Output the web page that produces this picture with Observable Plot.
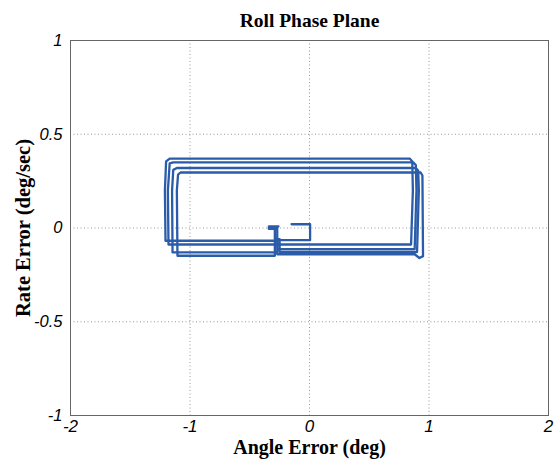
<!DOCTYPE html>
<html>
<head>
<meta charset="utf-8">
<script src="https://cdn.jsdelivr.net/npm/d3@7"></script>
<script src="https://cdn.jsdelivr.net/npm/@observablehq/plot@0.6"></script>
<style>
  html, body { margin: 0; padding: 0; background: #fff; }
</style>
</head>
<body>
<div id="chart"></div>
<script>
const title = "Roll Phase Plane";
const xLabel = "Angle Error (deg)";
const yLabel = "Rate Error (deg/sec)";
const xTicks = [-2, -1, 0, 1, 2];
const yTicks = [-1, -0.5, 0, 0.5, 1];

// trajectory (angle error, rate error), in time order
const angle = [
  -0.15, 0.005, 0.005, -0.29, -0.29, -0.27, -0.27, -1.205,
  -1.21, -1.2, -1.17, 0.84, 0.86, 0.865, 0.85,
  -1.18, -1.185, -1.17, -1.14, 0.87, 0.89, 0.895, 0.88,
  -0.27, -0.27, -1.146, -1.15, -1.14, -1.11, 0.89, 0.91, 0.915, 0.90,
  -0.25, -0.25, -0.29, -0.29, -1.105, -1.11, -1.10, -1.08, 0.93, 0.945, 0.95, 0.92, 0.88,
  -0.24, -0.27, -0.27, -0.34, -0.34, -0.26
];
const rate = [
  0.02, 0.02, -0.065, -0.065, 0.0, 0.0, -0.068, -0.068,
  0.2, 0.355, 0.37, 0.37, 0.355, 0.2, -0.088,
  -0.088, 0.2, 0.345, 0.35, 0.35, 0.335, 0.2, -0.113,
  -0.113, -0.13, -0.13, 0.2, 0.31, 0.32, 0.32, 0.305, 0.2, -0.128,
  -0.128, -0.06, -0.06, -0.148, -0.148, 0.2, 0.285, 0.296, 0.296, 0.28, -0.15, -0.16, -0.14,
  -0.14, -0.14, -0.005, -0.005, 0.008, 0.008
];

const pts = angle.map((a, i) => ({a, r: rate[i]}));

const plot = Plot.plot({
  width: 560,
  height: 467,
  marginLeft: 70,
  marginRight: 12,
  marginTop: 40,
  marginBottom: 52,
  style: {fontFamily: "Liberation Sans, Arial, sans-serif", fontSize: "16px", background: "#fff"},
  x: {domain: [-2, 2]},
  y: {domain: [-1, 1]},
  marks: [
    Plot.gridX(xTicks.slice(1, -1), {stroke: "#999", strokeOpacity: 1, strokeDasharray: "1,2.5"}),
    Plot.gridY(yTicks.slice(1, -1), {stroke: "#999", strokeOpacity: 1, strokeDasharray: "1,2.5"}),
    Plot.axisX(xTicks, {tickSize: 0, tickPadding: 4, fontStyle: "italic", fontSize: 17, tickFormat: d => String(d), label: null, fill: "#000"}),
    Plot.axisY(yTicks, {tickSize: 0, tickPadding: 8, fontStyle: "italic", fontSize: 16.5, tickFormat: d => String(d), label: null, fill: "#000"}),
    Plot.line(pts, {x: "a", y: "r", stroke: "#2a5caa", strokeWidth: 2.3, curve: "linear"}),
    Plot.frame({stroke: "#666", strokeWidth: 1}),
    Plot.text([title], {frameAnchor: "top", dy: -27, fontFamily: "Liberation Serif, Times New Roman, serif", fontWeight: "bold", fontSize: 19.5, fill: "#000"}),
    Plot.text([xLabel], {frameAnchor: "bottom", dy: 38, fontFamily: "Liberation Serif, Times New Roman, serif", fontWeight: "bold", fontSize: 20, fill: "#000"}),
    Plot.text([yLabel], {frameAnchor: "left", textAnchor: "middle", dx: -47, dy: 0, rotate: -90, fontFamily: "Liberation Serif, Times New Roman, serif", fontWeight: "bold", fontSize: 20.5, fill: "#000"})
  ]
});
document.getElementById("chart").appendChild(plot);
</script>
</body>
</html>
